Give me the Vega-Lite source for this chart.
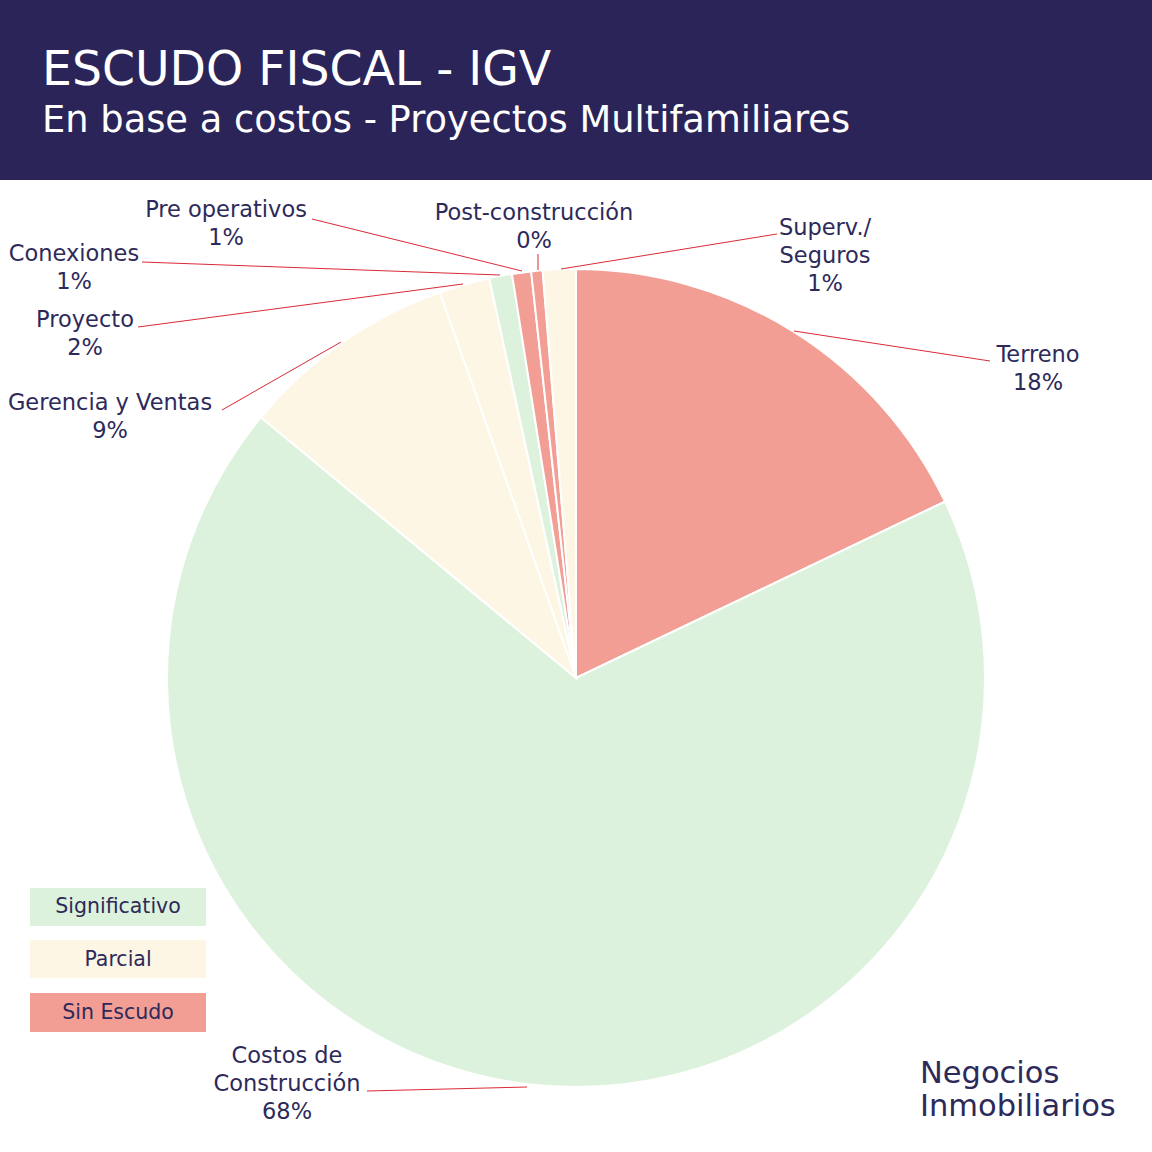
{
  "$schema": "https://vega.github.io/schema/vega-lite/v6.json",
  "width": 1152,
  "height": 1152,
  "autosize": {"type": "fit", "contains": "padding"},
  "padding": 0,
  "background": "white",
  "config": {"view": {"stroke": null}, "text": {"font": "DejaVu Sans"}},
  "datasets": {
    "slices": [
      {"category": "Terreno", "value": 0.179, "group": "Sin Escudo", "order": 1},
      {"category": "Costos de Construcción", "value": 0.681, "group": "Significativo", "order": 2},
      {"category": "Gerencia y Ventas", "value": 0.086, "group": "Parcial", "order": 3},
      {"category": "Proyecto", "value": 0.02, "group": "Parcial", "order": 4},
      {"category": "Conexiones", "value": 0.009, "group": "Significativo", "order": 5},
      {"category": "Pre operativos", "value": 0.0075, "group": "Sin Escudo", "order": 6},
      {"category": "Post-construcción", "value": 0.0045, "group": "Sin Escudo", "order": 7},
      {"category": "Superv./Seguros", "value": 0.013, "group": "Parcial", "order": 8}
    ],
    "labels": [
      {"label": "Terreno\n18%", "lx": 1038, "ly": 362},
      {"label": "Costos de\nConstrucción\n68%", "lx": 287, "ly": 1063},
      {"label": "Gerencia y Ventas\n9%", "lx": 110, "ly": 410},
      {"label": "Proyecto\n2%", "lx": 85, "ly": 327},
      {"label": "Conexiones\n1%", "lx": 74, "ly": 261},
      {"label": "Pre operativos\n1%", "lx": 226, "ly": 217},
      {"label": "Post-construcción\n0%", "lx": 534, "ly": 220},
      {"label": "Superv./\nSeguros\n1%", "lx": 825, "ly": 235}
    ],
    "leaders": [
      {"x1": 794, "y1": 331, "x2": 990, "y2": 361},
      {"x1": 367, "y1": 1091, "x2": 527, "y2": 1087},
      {"x1": 222, "y1": 410, "x2": 341, "y2": 342},
      {"x1": 138, "y1": 327, "x2": 463, "y2": 284},
      {"x1": 142, "y1": 262, "x2": 500, "y2": 275},
      {"x1": 312, "y1": 219, "x2": 522, "y2": 271},
      {"x1": 538, "y1": 254, "x2": 538, "y2": 270},
      {"x1": 561, "y1": 269, "x2": 777, "y2": 234}
    ],
    "legend": [
      {"group": "Significativo", "top": 888, "bottom": 926, "base": 913},
      {"group": "Parcial", "top": 940, "bottom": 978, "base": 966},
      {"group": "Sin Escudo", "top": 993, "bottom": 1032, "base": 1019}
    ],
    "single": [{}]
  },
  "layer": [
    {
      "data": {"name": "single"},
      "mark": {"type": "rect", "color": "#2B2459"},
      "encoding": {
        "x": {"datum": 0, "type": "quantitative", "scale": {"domain": [0, 1152], "nice": false, "zero": false}, "axis": null},
        "x2": {"datum": 1152},
        "y": {"datum": 0, "type": "quantitative", "scale": {"domain": [0, 1152], "nice": false, "zero": false, "reverse": true}, "axis": null},
        "y2": {"datum": 180}
      }
    },
    {
      "data": {"name": "single"},
      "mark": {"type": "text", "text": "ESCUDO FISCAL - IGV", "color": "white", "fontSize": 47.3, "align": "left", "baseline": "alphabetic"},
      "encoding": {
        "x": {"datum": 42, "type": "quantitative"},
        "y": {"datum": 85, "type": "quantitative"}
      }
    },
    {
      "data": {"name": "single"},
      "mark": {"type": "text", "text": "En base a costos - Proyectos Multifamiliares", "color": "white", "fontSize": 36.8, "align": "left", "baseline": "alphabetic"},
      "encoding": {
        "x": {"datum": 42, "type": "quantitative"},
        "y": {"datum": 132, "type": "quantitative"}
      }
    },
    {
      "data": {"name": "slices"},
      "mark": {"type": "arc", "outerRadius": 409, "stroke": "white", "strokeWidth": 2},
      "encoding": {
        "theta": {"field": "value", "type": "quantitative", "stack": true},
        "order": {"field": "order", "type": "quantitative"},
        "color": {
          "field": "group",
          "type": "nominal",
          "scale": {"domain": ["Significativo", "Parcial", "Sin Escudo"], "range": ["#DDF2DC", "#FEF6E5", "#F29E94"]},
          "legend": null
        },
        "x": {"datum": 576, "type": "quantitative"},
        "y": {"datum": 678, "type": "quantitative"}
      }
    },
    {
      "data": {"name": "leaders"},
      "mark": {"type": "rule", "color": "#D92B36", "strokeWidth": 1},
      "encoding": {
        "x": {"field": "x1", "type": "quantitative"},
        "y": {"field": "y1", "type": "quantitative"},
        "x2": {"field": "x2"},
        "y2": {"field": "y2"}
      }
    },
    {
      "data": {"name": "labels"},
      "mark": {"type": "text", "color": "#2D2A5A", "fontSize": 22.5, "align": "center", "baseline": "alphabetic", "lineBreak": "\n", "lineHeight": 28},
      "encoding": {
        "x": {"field": "lx", "type": "quantitative"},
        "y": {"field": "ly", "type": "quantitative"},
        "text": {"field": "label"}
      }
    },
    {
      "data": {"name": "legend"},
      "mark": {"type": "rect"},
      "encoding": {
        "x": {"datum": 30, "type": "quantitative"},
        "x2": {"datum": 206},
        "y": {"field": "top", "type": "quantitative"},
        "y2": {"field": "bottom"},
        "color": {"field": "group", "type": "nominal", "legend": null}
      }
    },
    {
      "data": {"name": "legend"},
      "mark": {"type": "text", "color": "#2D2A5A", "fontSize": 20.5, "align": "center", "baseline": "alphabetic"},
      "encoding": {
        "x": {"datum": 118, "type": "quantitative"},
        "y": {"field": "base", "type": "quantitative"},
        "text": {"field": "group"}
      }
    },
    {
      "data": {"name": "single"},
      "mark": {"type": "text", "text": ["Negocios", "Inmobiliarios"], "color": "#2D2A5A", "fontSize": 30.5, "align": "left", "baseline": "alphabetic", "lineHeight": 33},
      "encoding": {
        "x": {"datum": 920, "type": "quantitative"},
        "y": {"datum": 1083, "type": "quantitative"}
      }
    }
  ]
}
